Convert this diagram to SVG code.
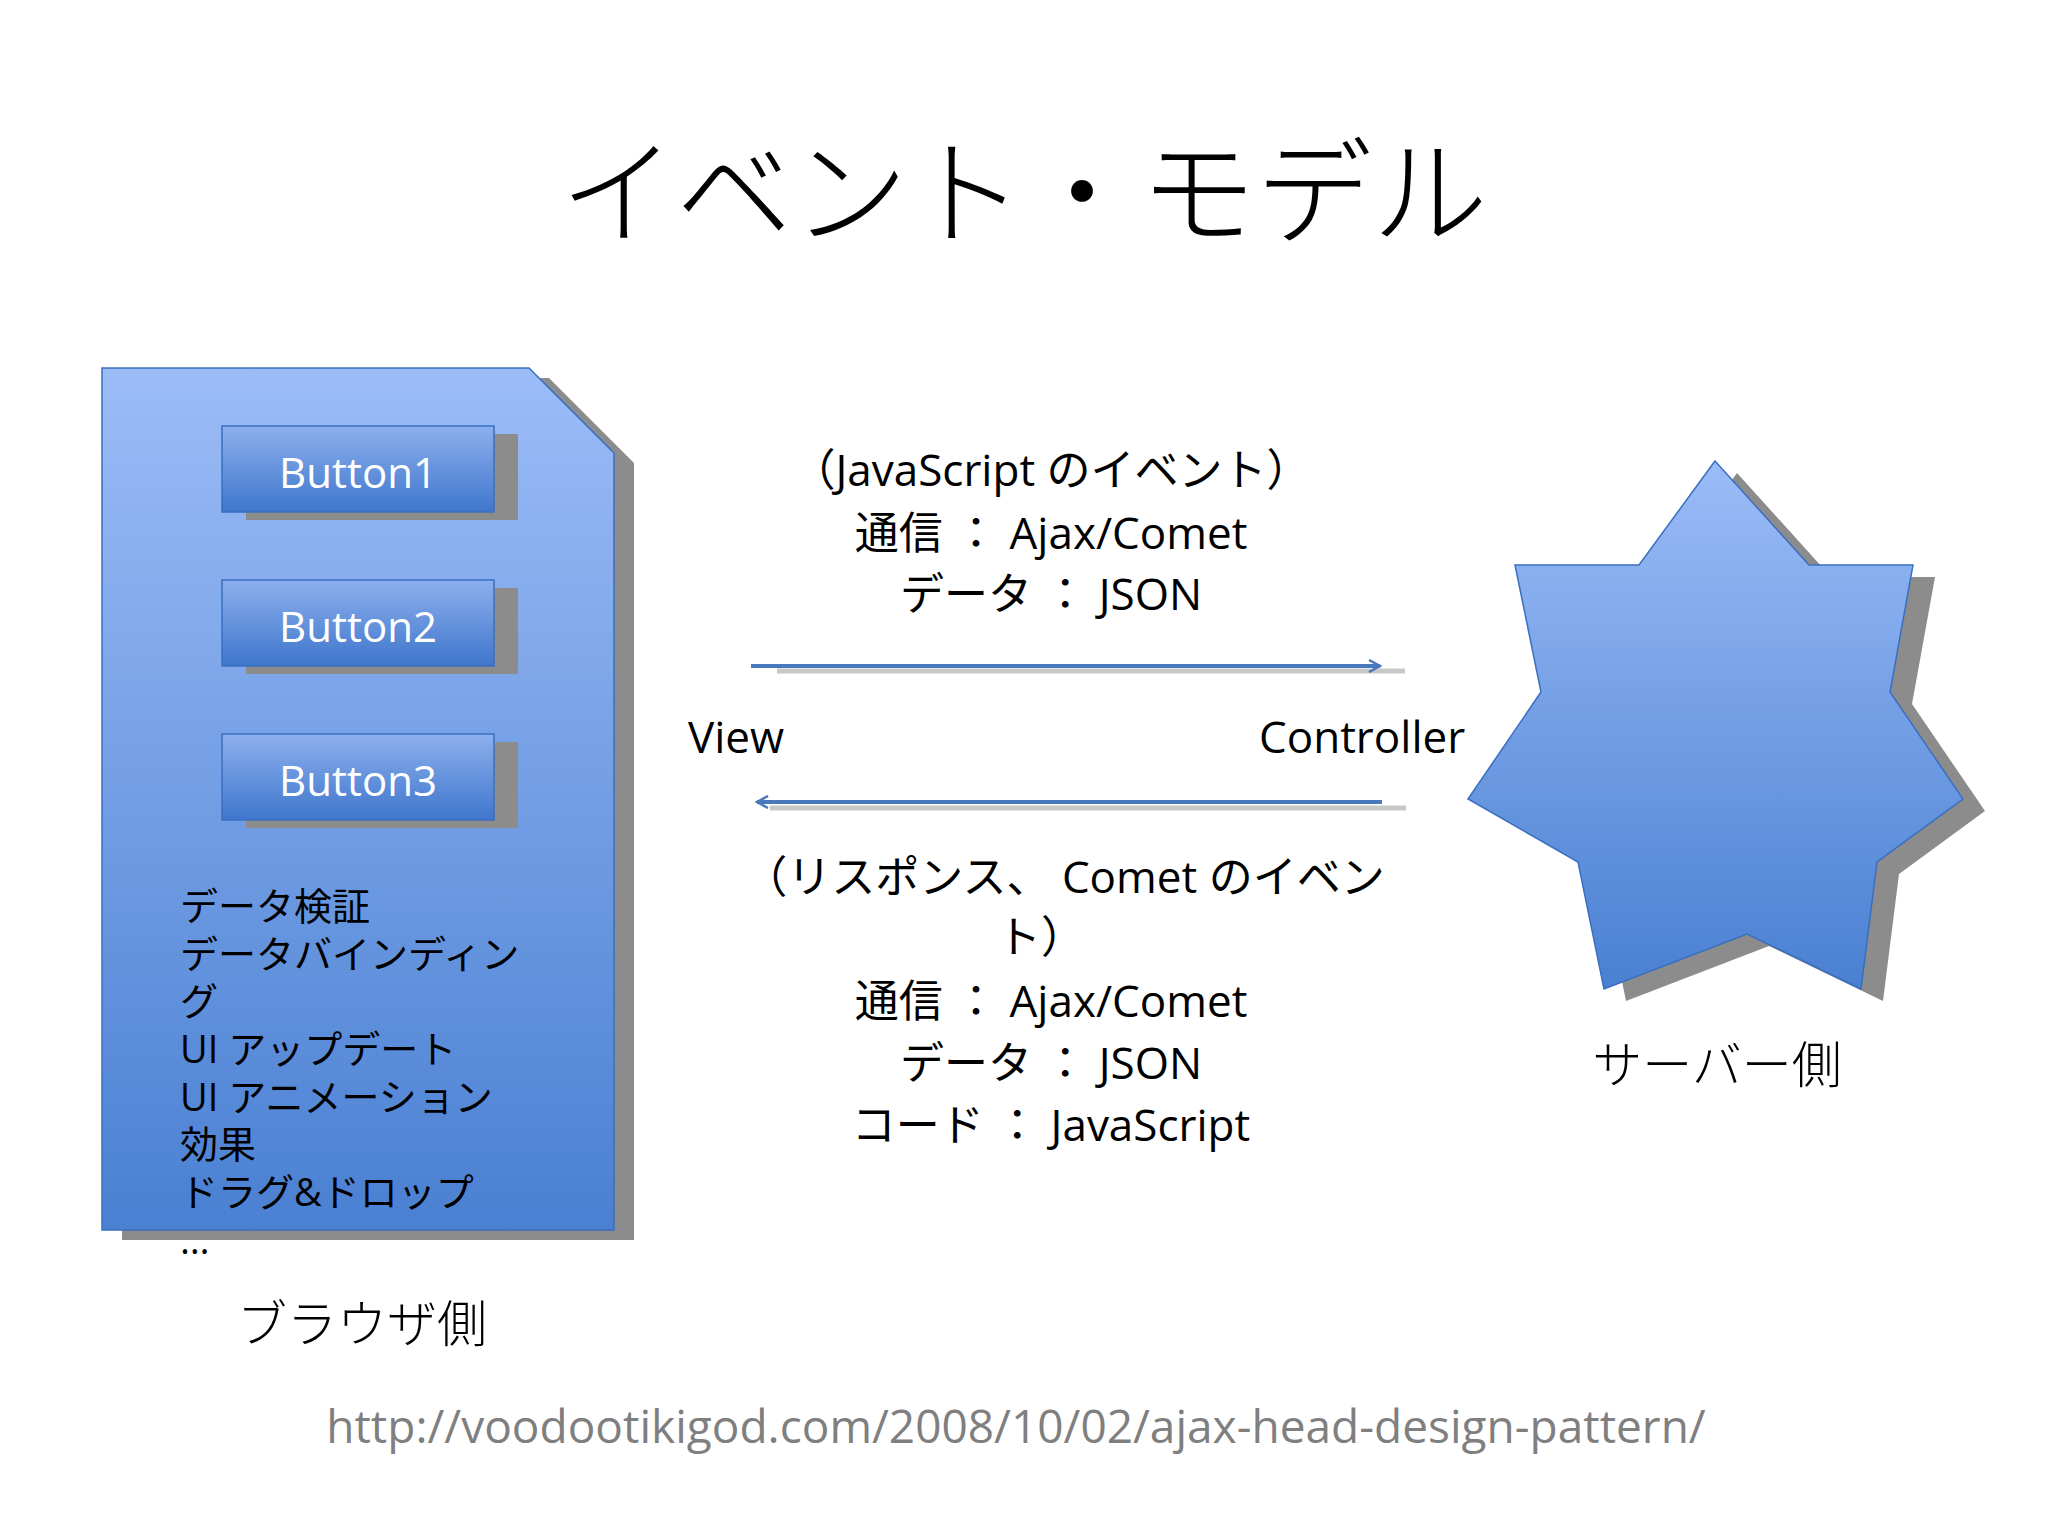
<svg xmlns="http://www.w3.org/2000/svg" width="2048" height="1536" viewBox="0 0 2048 1536">
<style>
.t{font-family:"Open Sans","Noto Sans CJK JP",sans-serif;fill:#000}
.j{font-family:"Noto Sans CJK JP",sans-serif;font-weight:300}
.b{font-family:"Open Sans",sans-serif;fill:#fff;font-size:42px;text-anchor:middle}
.sh{fill:#8c8c8c}
.bl{fill:url(#g)}
.btn{fill:url(#gb);stroke:#3a6fc0;stroke-width:1.5}
</style>
<defs>
<linearGradient id="g" x1="0" y1="0" x2="0" y2="1"><stop offset="0" stop-color="#9bbcf7"/><stop offset="1" stop-color="#4a80d2"/></linearGradient>
<linearGradient id="gb" x1="0" y1="0" x2="0" y2="1"><stop offset="0" stop-color="#8db0ee"/><stop offset="1" stop-color="#3f76cc"/></linearGradient>
<marker id="ah" markerWidth="14" markerHeight="14" refX="12" refY="7" orient="auto" markerUnits="userSpaceOnUse"><path d="M1,1 L12,7 L1,13" fill="none" stroke="#4a78bd" stroke-width="2.5"/></marker>
</defs>
<rect width="2048" height="1536" fill="#fff"/>
<text x="1024" y="235" text-anchor="middle" class="j" font-size="116">イベント・モデル</text>
<g id="browser">
<path class="sh" d="M122,378 H549 L634,463 V1240 H122Z"/>
<path class="bl" stroke="#3a6fc0" stroke-width="1.5" d="M102,368 H529 L614,453 V1230 H102Z"/>
</g>
<g id="button1"><rect class="sh" x="246" y="434" width="272" height="86"/><rect class="btn" x="222" y="426" width="272" height="86"/><text class="b" x="358" y="488">Button1</text></g>
<g id="button2"><rect class="sh" x="246" y="588" width="272" height="86"/><rect class="btn" x="222" y="580" width="272" height="86"/><text class="b" x="358" y="642">Button2</text></g>
<g id="button3"><rect class="sh" x="246" y="742" width="272" height="86"/><rect class="btn" x="222" y="734" width="272" height="86"/><text class="b" x="358" y="796">Button3</text></g>
<g class="t" font-size="38">
<text x="180" y="920">データ検証</text>
<text x="180" y="968">データバインディン</text>
<text x="180" y="1015">グ</text>
<text x="180" y="1063">UI アップデート</text>
<text x="180" y="1111">UI アニメーション</text>
<text x="180" y="1158">効果</text>
<text x="180" y="1206">ドラグ&amp;ドロップ</text>
<text x="180" y="1254">…</text>
</g>
<text class="t j" x="362" y="1342" text-anchor="middle" font-size="50">ブラウザ側</text>
<g id="connectors">
<line x1="777" y1="671" x2="1405" y2="671" stroke="#c8c8c8" stroke-width="5"/>
<line x1="751" y1="666" x2="1380" y2="666" stroke="#4a78bd" stroke-width="4" marker-end="url(#ah)"/>
<line x1="770" y1="808" x2="1406" y2="808" stroke="#c8c8c8" stroke-width="5"/>
<line x1="1382" y1="802" x2="757" y2="802" stroke="#4a78bd" stroke-width="4" marker-end="url(#ah)"/>
</g>
<g class="t" font-size="44" text-anchor="middle">
<text x="1051" y="486">（JavaScript のイベント）</text>
<text x="1051" y="549">通信 ： Ajax/Comet</text>
<text x="1051" y="610">データ ： JSON</text>
<text x="1064" y="893">（リスポンス、 Comet のイベン</text>
<text x="1041" y="953">ト）</text>
<text x="1051" y="1017">通信 ： Ajax/Comet</text>
<text x="1051" y="1079">データ ： JSON</text>
<text x="1051" y="1141">コード ： JavaScript</text>
</g>
<text class="t" x="688" y="753" font-size="44">View</text>
<text class="t" x="1259" y="753" font-size="44">Controller</text>
<g id="server">
<path class="sh" transform="translate(22,12)" d="M1715,461 L1809,565 L1913,565 L1890,692 L1963,799 L1877,862 L1861,989 L1747,934 L1604,989 L1578,862 L1468,799 L1541,692 L1515,565 L1639,565Z"/>
<path class="bl" stroke="#3a6fc0" stroke-width="1.5" d="M1715,461 L1809,565 L1913,565 L1890,692 L1963,799 L1877,862 L1861,989 L1747,934 L1604,989 L1578,862 L1468,799 L1541,692 L1515,565 L1639,565Z"/>
</g>
<text class="t j" x="1717" y="1083" text-anchor="middle" font-size="50">サーバー側</text>
<text x="1016" y="1443" text-anchor="middle" font-family="Open Sans,sans-serif" font-size="46" fill="#7f7f7f">http://voodootikigod.com/2008/10/02/ajax-head-design-pattern/</text>
</svg>
